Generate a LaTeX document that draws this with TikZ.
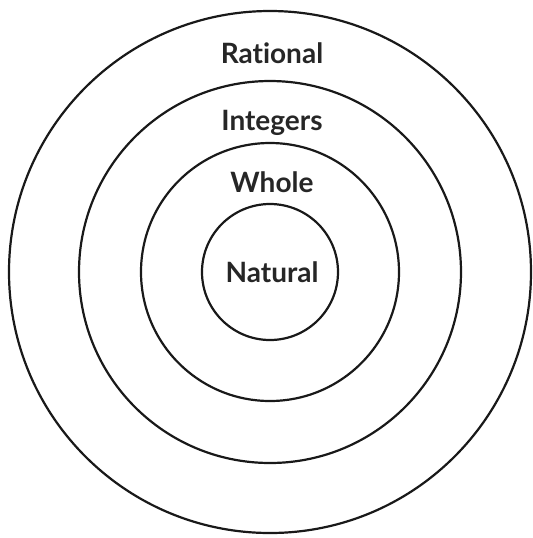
\documentclass[tikz,border=0pt]{standalone}
\usepackage{fontspec}
\setmainfont{Lato}[Ligatures={NoCommon,NoRare}]
\tikzset{
  ring/.style={draw=black!90,line width=1.1pt},
  setname/.style={anchor=base,font=\fontsize{14}{16}\selectfont\bfseries,text=black!85,inner sep=0pt}
}
\begin{document}
\begin{tikzpicture}[x=0.5pt,y=-0.5pt]
\useasboundingbox (0,0) rectangle (533,538);
\coordinate (o) at (270,272);
\foreach \r in {261,191,129,68}
  \draw[ring] (o) circle[radius=\r];
\node[setname] (rational) at (272,63) {Rational};
\node[setname] (integers) at (272,130) {Integers};
\node[setname] (whole) at (272,192) {Whole};
\node[setname] (natural) at (272,282) {Natural};
\end{tikzpicture}
\end{document}
